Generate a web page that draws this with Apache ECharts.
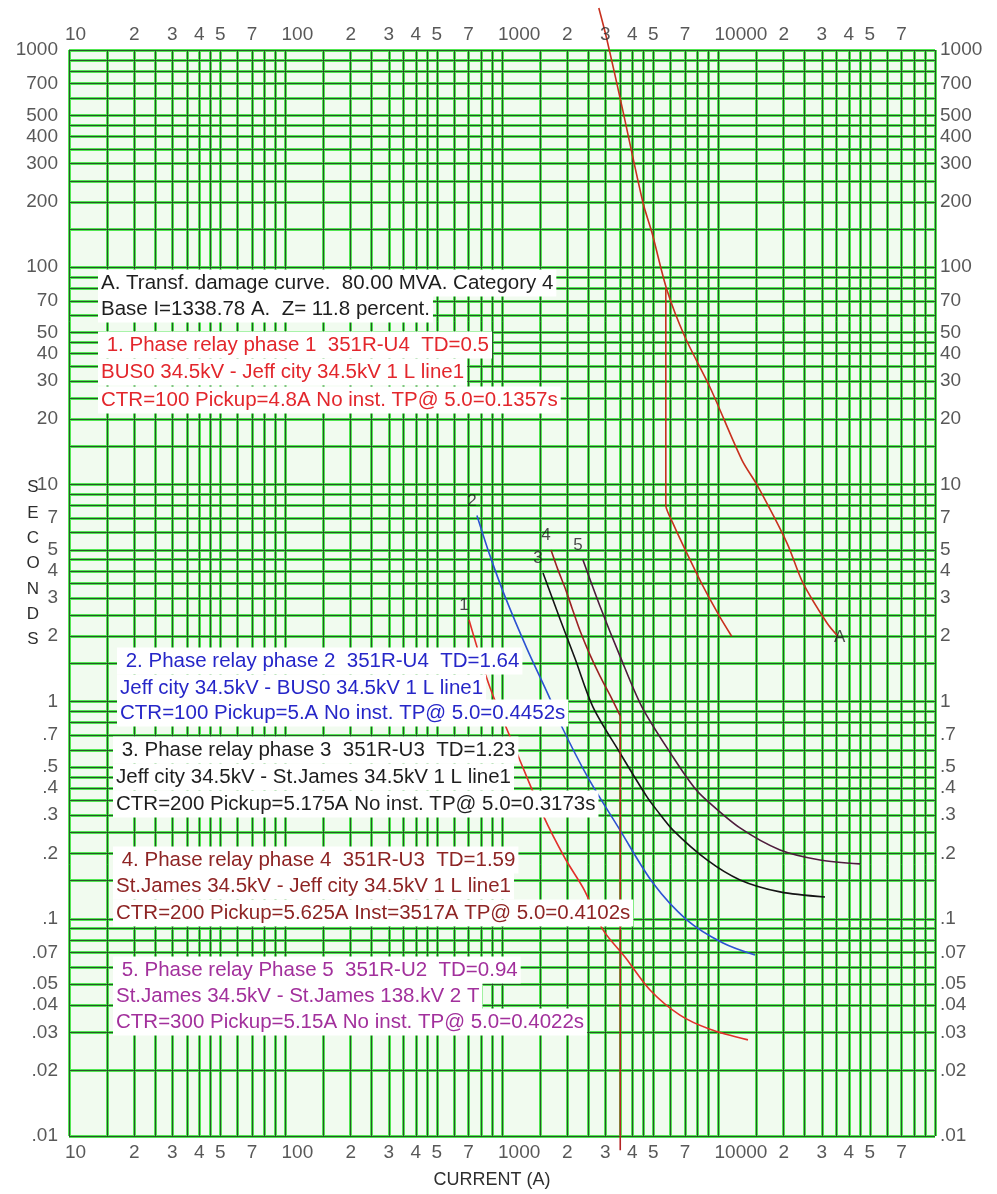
<!DOCTYPE html>
<html>
<head>
<meta charset="utf-8">
<script src="https://cdn.jsdelivr.net/npm/echarts@6.0.0/dist/echarts.min.js"></script>
<style>
  html, body { margin: 0; padding: 0; background: #ffffff; }
  #chart { width: 997px; height: 1194px; }
</style>
</head>
<body>
<div id="chart"></div>
<script>
// ---- axis ticks and labels ----
const xTickValues = [10, 20, 30, 40, 50, 70, 100, 200, 300, 400, 500, 700,
  1000, 2000, 3000, 4000, 5000, 7000, 10000, 20000, 30000, 40000, 50000, 70000];
const xTickText = ['10', '2', '3', '4', '5', '7', '100', '2', '3', '4', '5', '7',
  '1000', '2', '3', '4', '5', '7', '10000', '2', '3', '4', '5', '7'];
const yTickValues = [1000, 700, 500, 400, 300, 200, 100, 70, 50, 40, 30, 20, 10, 7, 5, 4, 3, 2,
  1, 0.7, 0.5, 0.4, 0.3, 0.2, 0.1, 0.07, 0.05, 0.04, 0.03, 0.02, 0.01];
const yTickText = ['1000', '700', '500', '400', '300', '200', '100', '70', '50', '40', '30', '20',
  '10', '7', '5', '4', '3', '2', '1', '.7', '.5', '.4', '.3', '.2', '.1', '.07', '.05', '.04',
  '.03', '.02', '.01'];

// grid rulings inside every decade
const gridSteps = [1, 1.5, 2, 2.5, 3, 3.5, 4, 4.5, 5, 6, 7, 8, 9];
const xDecades = [10, 100, 1000, 10000];
const yDecades = [0.01, 0.1, 1, 10, 100];
const xMin = 10, xMax = 100000;
const yMin = 0.01, yMax = 1000;

// ---- curves: [current (A), time (s)] ----
// A. transformer damage curve (thermal part and mechanical branch)
const curveA = [[2800, 1560], [3055, 1112], [3584, 547], [4480, 198], [4930, 144],
  [5780, 78.5], [7000, 47.7], [9135, 28], [12850, 12.9], [15070, 9.94], [20720, 5.37],
  [24550, 3.52], [31700, 2.3], [35600, 2.0]];
const curveABranch = [[5710, 80], [5710, 8.0], [6170, 6.6], [7160, 4.8], [8480, 3.4],
  [10160, 2.45], [11500, 2.0]];
// 1. phase relay 1
const curve1 = [[704, 2.38], [880, 1.16], [1172, 0.58], [1547, 0.3], [1954, 0.19],
  [2400, 0.1357], [2928, 0.089], [3700, 0.0667], [4827, 0.047], [6637, 0.036],
  [9135, 0.031], [13680, 0.0277]];
// 2. phase relay 2
const curve2 = [[766, 7.2], [880, 4.7], [1032, 3.05], [1305, 1.75], [1667, 1.03],
  [1853, 0.797], [2500, 0.4452], [3508, 0.256], [4983, 0.146], [7153, 0.0987],
  [10490, 0.0774], [14750, 0.0681]];
// 3. phase relay 3
const curve3 = [[1547, 3.91], [1853, 2.4], [2174, 1.58], [2633, 0.944], [3508, 0.58],
  [4674, 0.364], [5175, 0.3173], [6164, 0.256], [8849, 0.1866], [12570, 0.151],
  [19240, 0.133], [31040, 0.126]];
// 4. phase relay 4, with instantaneous trip at 3517 A
const curve4 = [[1684, 4.99], [1814, 4.04], [1954, 3.34], [2105, 2.7], [2293, 2.12],
  [2550, 1.64], [2836, 1.31], [3154, 1.07], [3517, 0.859]];
const curve4Inst = [[3517, 0.859], [3517, 0.0086]];
// 5. phase relay 5
const curve5 = [[2366, 4.49], [2836, 2.75], [3508, 1.62], [4433, 0.944], [6164, 0.556],
  [7725, 0.4022], [8849, 0.35], [12570, 0.262], [19240, 0.2075], [29430, 0.1866],
  [45040, 0.179]];

// ---- note texts ----
const noteA = ['A. Transf. damage curve.  80.00 MVA. Category 4',
  'Base I=1338.78 A.  Z= 11.8 percent.'];
const note1 = [' 1. Phase relay phase 1  351R-U4  TD=0.5',
  'BUS0 34.5kV - Jeff city 34.5kV 1 L line1',
  'CTR=100 Pickup=4.8A No inst. TP@ 5.0=0.1357s'];
const note2 = [' 2. Phase relay phase 2  351R-U4  TD=1.64',
  'Jeff city 34.5kV - BUS0 34.5kV 1 L line1',
  'CTR=100 Pickup=5.A No inst. TP@ 5.0=0.4452s'];
const note3 = [' 3. Phase relay phase 3  351R-U3  TD=1.23',
  'Jeff city 34.5kV - St.James 34.5kV 1 L line1',
  'CTR=200 Pickup=5.175A No inst. TP@ 5.0=0.3173s'];
const note4 = [' 4. Phase relay phase 4  351R-U3  TD=1.59',
  'St.James 34.5kV - Jeff city 34.5kV 1 L line1',
  'CTR=200 Pickup=5.625A Inst=3517A TP@ 5.0=0.4102s'];
const note5 = [' 5. Phase relay Phase 5  351R-U2  TD=0.94',
  'St.James 34.5kV - St.James 138.kV 2 T',
  'CTR=300 Pickup=5.15A No inst. TP@ 5.0=0.4022s'];

const FONT = '"Liberation Sans", Arial, sans-serif';

// ruling values
function rulings(decades, end) {
  const out = [];
  decades.forEach(d => gridSteps.forEach(s => out.push(+(d * s).toPrecision(6))));
  out.push(end);
  return out;
}
const xRulings = rulings(xDecades, xMax);
const yRulings = rulings(yDecades, yMax);

function rulingSeries(color, width, z) {
  return {
    type: 'line', data: [[xMin, yMin]], showSymbol: false, silent: true, z: z,
    lineStyle: { opacity: 0 },
    markLine: {
      silent: true, symbol: ['none', 'none'], animation: false,
      label: { show: false },
      lineStyle: { color: color, width: width, type: 'solid' },
      emphasis: { disabled: true },
      data: xRulings.map(v => ({ xAxis: v })).concat(yRulings.map(v => ({ yAxis: v })))
    }
  };
}

function curveSeries(data, color, smooth, clip) {
  return {
    type: 'line', data: data, showSymbol: false, smooth: smooth, clip: clip,
    silent: true, z: 5,
    lineStyle: { color: color, width: 1.6 }
  };
}

function tickLabelSeries(data, position, distance) {
  return {
    type: 'scatter', data: data, symbolSize: 0, clip: false, silent: true, z: 6,
    label: {
      show: true, position: position, distance: distance,
      fontFamily: FONT, fontSize: 19, color: '#2e2e2e'
    }
  };
}

const xTopLabels = xTickValues.map((v, i) => ({
  value: [v, yMax],
  label: { formatter: xTickText[i], align: xTickText[i].length > 1 ? 'left' : 'center',
    offset: xTickText[i].length > 1 ? [-4, 0] : [0, 0] }
}));
const xBottomLabels = xTickValues.map((v, i) => ({
  value: [v, yMin],
  label: { formatter: xTickText[i], align: xTickText[i].length > 1 ? 'left' : 'center',
    offset: xTickText[i].length > 1 ? [-4, 0] : [0, 0] }
}));
const yLeftLabels = yTickValues.map((v, i) => ({ value: [xMin, v], label: { formatter: yTickText[i] } }));
const yRightLabels = yTickValues.map((v, i) => ({ value: [xMax, v], label: { formatter: yTickText[i] } }));

// curve tags at the start of each relay curve, and "A" at the end of the damage curve
const curveTags = [
  { value: curve1[0], label: { formatter: '1' } },
  { value: curve2[0], label: { formatter: '2' } },
  { value: curve3[0], label: { formatter: '3' } },
  { value: curve4[0], label: { formatter: '4' } },
  { value: curve5[0], label: { formatter: '5' } }
];
const endTagA = [{ value: curveA[curveA.length - 1], label: { formatter: 'A' } }];

// note blocks
const noteBlocks = [
  { lines: noteA, color: '#1e1e1e', x: 98, y: [283, 309] },
  { lines: note1, color: '#e3262c', x: 98, y: [345, 372, 400] },
  { lines: note2, color: '#2626c8', x: 117, y: [661, 688, 713] },
  { lines: note3, color: '#1e1e1e', x: 113, y: [750, 777, 804] },
  { lines: note4, color: '#8e2424', x: 113, y: [860, 886, 913] },
  { lines: note5, color: '#a2309c', x: 113, y: [970, 996, 1022] }
];
const graphics = [];
noteBlocks.forEach(b => b.lines.forEach((t, i) => {
  graphics.push({
    type: 'text', x: b.x, y: b.y[i], z: 50, silent: true,
    style: {
      text: t, fill: b.color, font: '20.5px ' + FONT,
      align: 'left', verticalAlign: 'middle',
      backgroundColor: '#ffffff', padding: [3, 3, 3, 3]
    }
  });
}));
graphics.push({
  type: 'text', x: 33, y: 475, z: 50, silent: true,
  style: { text: 'S\nE\nC\nO\nN\nD\nS', fill: '#2e2e2e', font: '17px ' + FONT,
    align: 'center', verticalAlign: 'top', lineHeight: 25.3 }
});
graphics.push({
  type: 'text', x: 492, y: 1180, z: 50, silent: true,
  style: { text: 'CURRENT (A)', fill: '#2e2e2e', font: '18px ' + FONT,
    align: 'center', verticalAlign: 'middle' }
});

const chart = echarts.init(document.getElementById('chart'), null, { renderer: 'canvas' });
chart.setOption({
  animation: false,
  backgroundColor: '#ffffff',
  grid: { left: 69, right: 62, top: 50, bottom: 58, show: true,
    backgroundColor: '#f1fbef', borderWidth: 0 },
  xAxis: {
    type: 'log', logBase: 10, min: xMin, max: xMax,
    axisLine: { show: false }, axisTick: { show: false },
    axisLabel: { show: false }, splitLine: { show: false }
  },
  yAxis: {
    type: 'log', logBase: 10, min: yMin, max: yMax,
    axisLine: { show: false }, axisTick: { show: false },
    axisLabel: { show: false }, splitLine: { show: false }
  },
  graphic: graphics,
  series: [
    rulingSeries('#52e652', 3, 1),
    rulingSeries('#2a552a', 1, 2),
    curveSeries(curveA, '#c8301e', 0.3, false),
    curveSeries(curveABranch, '#c8301e', 0.2, false),
    curveSeries(curve1, '#e2302a', 0.3, true),
    curveSeries(curve2, '#2d52d2', 0.3, true),
    curveSeries(curve3, '#141414', 0.3, true),
    curveSeries(curve4, '#9c2222', 0.3, true),
    curveSeries(curve4Inst, '#b42424', false, false),
    curveSeries(curve5, '#4e1c3c', 0.3, true),
    tickLabelSeries(xTopLabels, 'top', 6),
    tickLabelSeries(xBottomLabels, 'bottom', 7),
    tickLabelSeries(yLeftLabels, 'left', 11),
    tickLabelSeries(yRightLabels, 'right', 5),
    {
      type: 'scatter', data: curveTags, symbolSize: 0, clip: false, silent: true, z: 6,
      label: { show: true, position: 'top', distance: 6, offset: [-5, 0],
        fontFamily: FONT, fontSize: 17, color: '#1e1e1e' }
    },
    {
      type: 'scatter', data: endTagA, symbolSize: 0, clip: false, silent: true, z: 6,
      label: { show: true, position: 'right', distance: -4, offset: [0, 1],
        fontFamily: FONT, fontSize: 17, color: '#1e1e1e' }
    }
  ]
});
</script>
</body>
</html>
